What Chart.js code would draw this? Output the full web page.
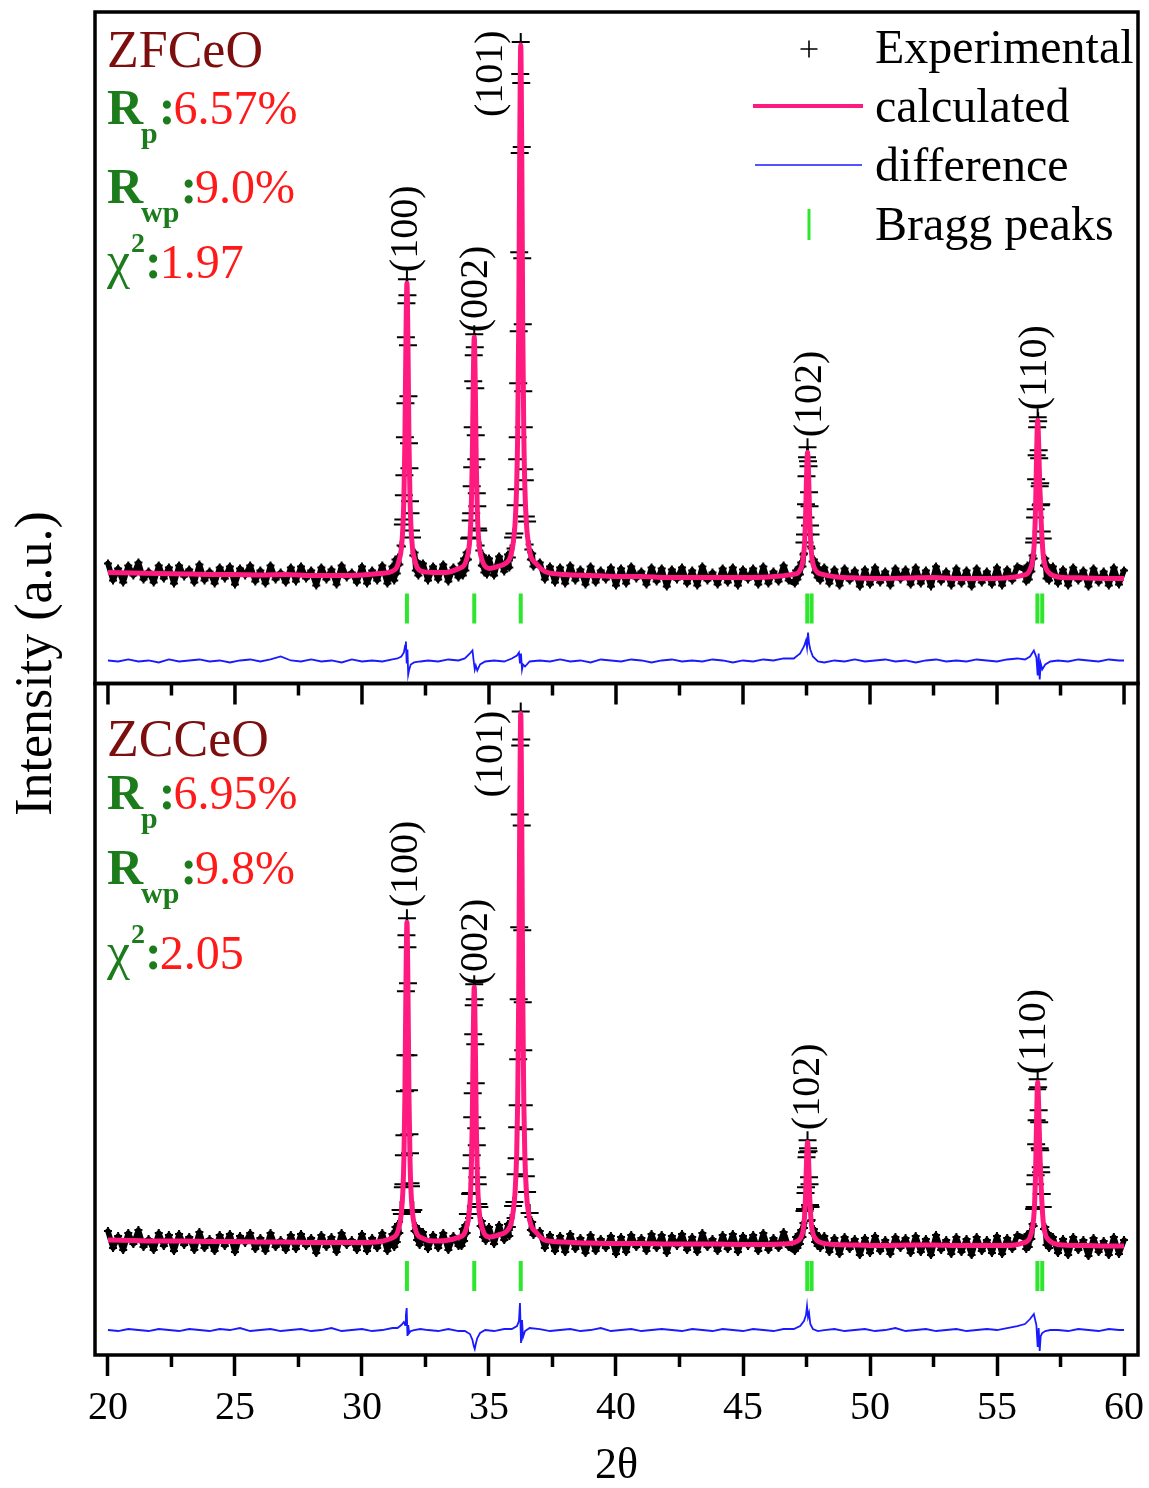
<!DOCTYPE html>
<html>
<head>
<meta charset="utf-8">
<title>Rietveld refinement ZFCeO / ZCCeO</title>
<script src="https://cdn.jsdelivr.net/npm/chart.js@4.4.0/dist/chart.umd.min.js"></script>
<style>
  html, body { margin: 0; padding: 0; background: #fff; }
  #wrap { position: relative; width: 1149px; height: 1488px; }
</style>
</head>
<body>
<div id="wrap"><canvas id="xrd" width="1149" height="1488"></canvas></div>
<script>
// 2theta grid of the calculated profile (same for both samples)
const calcX = [
  20, 21, 22, 23, 24, 25, 26, 27, 28, 29, 30, 30.7,
  31.17, 31.37, 31.47, 31.55, 31.61, 31.65, 31.69, 31.73, 31.77, 31.81, 31.85, 31.89, 31.93, 31.99, 32.07, 32.17, 32.37,
  32.8, 33.3,
  33.82, 34.02, 34.12, 34.2, 34.26, 34.3, 34.34, 34.38, 34.42, 34.46, 34.5, 34.54, 34.58, 34.64, 34.72, 34.82, 35.02,
  35.35,
  35.65, 35.85, 35.95, 36.03, 36.09, 36.13, 36.17, 36.21, 36.25, 36.29, 36.33, 36.37, 36.41, 36.47, 36.55, 36.65, 36.85,
  37.2, 38, 39, 40, 41, 42, 43, 44, 45, 46, 46.5,
  46.94, 47.14, 47.24, 47.32, 47.38, 47.42, 47.46, 47.5, 47.54, 47.58, 47.62, 47.66, 47.7, 47.76, 47.84, 47.94, 48.14,
  48.7, 49.5, 50.5, 51.5, 52.5, 53.5, 54.5, 55.3, 55.7,
  56.0, 56.2, 56.3, 56.38, 56.44, 56.48, 56.52, 56.56, 56.6, 56.64, 56.68, 56.72, 56.76, 56.82, 56.9, 57.0, 57.2,
  57.6, 58.5, 59.3, 60
];
const calcTop = [
  111, 110.5, 110, 109.5, 109, 109, 108.5, 109, 108, 108, 108.5, 110,
  112, 116, 124, 135, 156, 185, 243, 342, 400, 342, 243, 185, 156, 135, 124, 116, 112,
  111, 111,
  115, 118, 124, 133, 149, 173, 220, 299, 346, 299, 220, 173, 149, 133, 124, 118, 115,
  117,
  120, 127, 140, 161, 198, 250, 355, 533, 638, 533, 355, 250, 198, 161, 140, 127, 120,
  112, 109, 108, 107, 107, 106, 106, 106, 106, 106.5, 107.5,
  109, 110, 113, 118, 127, 139, 164, 206, 231, 211, 171, 144, 129, 119, 114, 111, 109,
  106.5, 105.5, 105, 105.5, 106, 105, 105, 105.5, 106.5,
  108, 110, 114, 120, 131, 147, 178, 232, 263, 239, 200, 172, 150, 128, 117, 112, 108,
  106, 105.5, 105, 105
];
const calcBot = [
  115, 114.5, 114, 114, 113.5, 113.5, 113, 113, 112.5, 112.5, 112.5, 113.5,
  117, 121, 129, 142, 164, 196, 260, 369, 433, 369, 260, 196, 164, 142, 129, 121, 117,
  114, 114.5,
  118, 121, 128, 138, 155, 181, 231, 317, 368, 317, 231, 181, 155, 138, 128, 121, 118,
  120,
  123, 130, 143, 164, 201, 254, 359, 537, 642, 537, 359, 254, 201, 164, 143, 130, 123,
  115, 113, 112, 111.5, 111.5, 111, 111, 111, 110.5, 110.5, 111,
  112, 114, 116, 120, 127, 138, 158, 193, 213, 198, 162, 142, 129, 121, 117, 114, 112,
  110.5, 110, 109.5, 110, 110, 109.5, 109.5, 109.5, 110,
  112, 114, 118, 125, 136, 152, 185, 240, 273, 249, 208, 178, 156, 133, 121, 116, 112,
  110, 109.5, 109, 109
];

// 2theta grid of the measured points
const expX = [
  20, 20.2, 20.4, 20.6, 20.8, 21, 21.2, 21.4, 21.6, 21.8,
  22, 22.2, 22.4, 22.6, 22.8, 23, 23.2, 23.4, 23.6, 23.8,
  24, 24.2, 24.4, 24.6, 24.8, 25, 25.2, 25.4, 25.6, 25.8,
  26, 26.2, 26.4, 26.6, 26.8, 27, 27.2, 27.4, 27.6, 27.8,
  28, 28.2, 28.4, 28.6, 28.8, 29, 29.2, 29.4, 29.6, 29.8,
  30, 30.2, 30.4, 30.6, 30.8, 31, 31.2,
  31.27, 31.32, 31.37, 31.42, 31.47, 31.52, 31.57, 31.61, 31.63, 31.65, 31.67, 31.69, 31.71, 31.73, 31.75, 31.77,
  31.79, 31.81, 31.83, 31.85, 31.87, 31.89, 31.91, 31.93, 31.97, 32.02, 32.07, 32.12, 32.17, 32.22, 32.27,
  32.4, 32.6, 32.8, 33, 33.2, 33.4, 33.6, 33.8,
  33.92, 33.97, 34.02, 34.07, 34.12, 34.17, 34.22, 34.26, 34.28, 34.3, 34.32, 34.34, 34.36, 34.38, 34.4, 34.42,
  34.44, 34.46, 34.48, 34.5, 34.52, 34.54, 34.56, 34.58, 34.62, 34.67, 34.72, 34.77, 34.82, 34.87, 34.92,
  35, 35.2, 35.4, 35.6,
  35.75, 35.8, 35.85, 35.9, 35.95, 36, 36.05, 36.09, 36.11, 36.13, 36.15, 36.17, 36.19, 36.21, 36.23, 36.25,
  36.27, 36.29, 36.31, 36.33, 36.35, 36.37, 36.39, 36.41, 36.45, 36.5, 36.55, 36.6, 36.65, 36.7, 36.75,
  37, 37.2, 37.4, 37.6, 37.8, 38, 38.2, 38.4, 38.6, 38.8,
  39, 39.2, 39.4, 39.6, 39.8, 40, 40.2, 40.4, 40.6, 40.8,
  41, 41.2, 41.4, 41.6, 41.8, 42, 42.2, 42.4, 42.6, 42.8,
  43, 43.2, 43.4, 43.6, 43.8, 44, 44.2, 44.4, 44.6, 44.8,
  45, 45.2, 45.4, 45.6, 45.8, 46, 46.2, 46.4, 46.6, 46.8,
  47.04, 47.09, 47.14, 47.19, 47.24, 47.29, 47.34, 47.38, 47.4, 47.42, 47.44, 47.46, 47.48, 47.5, 47.52, 47.54,
  47.56, 47.58, 47.6, 47.62, 47.64, 47.66, 47.68, 47.7, 47.74, 47.79, 47.84, 47.89, 47.94, 47.99, 48.04,
  48.2, 48.4, 48.6, 48.8, 49, 49.2, 49.4, 49.6, 49.8, 50,
  50.2, 50.4, 50.6, 50.8, 51, 51.2, 51.4, 51.6, 51.8, 52,
  52.2, 52.4, 52.6, 52.8, 53, 53.2, 53.4, 53.6, 53.8, 54,
  54.2, 54.4, 54.6, 54.8, 55, 55.2, 55.4, 55.6, 55.8,
  56.1, 56.15, 56.2, 56.25, 56.3, 56.35, 56.4, 56.44, 56.46, 56.48, 56.5, 56.52, 56.54, 56.56, 56.58, 56.6,
  56.62, 56.64, 56.66, 56.68, 56.7, 56.72, 56.74, 56.76, 56.8, 56.85, 56.9, 56.95, 57, 57.05, 57.1,
  57.2, 57.4, 57.6, 57.8, 58, 58.2, 58.4, 58.6, 58.8, 59, 59.2, 59.4, 59.6, 59.8, 60
];
const expTop = [
  120, 103, 115, 101, 118, 108, 121, 104, 112, 101,
  118, 105, 116, 100, 118, 107, 114, 101, 119, 103,
  112, 100, 116, 105, 117, 99, 115, 108, 118, 102,
  113, 100, 118, 104, 111, 101, 116, 102, 117, 105,
  113, 98, 116, 104, 114, 99, 118, 106, 111, 101,
  117, 100, 113, 103, 118, 100, 117,
  103, 124, 110, 126, 119, 138, 137, 159, 164, 188, 208, 246, 280, 346, 380, 404,
  388, 338, 287, 240, 215, 182, 170, 153, 146, 128, 131, 113, 122, 108, 119,
  120, 103, 117, 104, 119, 102, 116, 106,
  120, 108, 125, 113, 131, 124, 145, 146, 163, 170, 197, 216, 256, 302, 328, 349,
  336, 295, 248, 224, 190, 177, 155, 153, 133, 138, 118, 128, 111, 124, 109,
  125, 108, 127, 112,
  129, 116, 135, 126, 146, 150, 178, 194, 224, 246, 300, 352, 431, 530, 609, 641,
  600, 536, 425, 359, 292, 256, 214, 203, 167, 162, 134, 139, 124, 130, 117,
  121, 104, 117, 101, 116, 100, 118, 103, 114, 99,
  117, 101, 113, 104, 116, 98, 115, 100, 117, 105,
  112, 99, 116, 102, 115, 97, 114, 104, 116, 100,
  113, 98, 117, 103, 111, 99, 115, 101, 116, 98,
  114, 104, 115, 99, 117, 100, 112, 102, 118, 103,
  100, 113, 104, 116, 109, 121, 117, 129, 130, 141, 149, 166, 179, 207, 226, 236,
  222, 217, 191, 177, 158, 149, 137, 135, 122, 124, 111, 120, 106, 115, 103,
  116, 100, 114, 98, 115, 103, 113, 97, 114, 99,
  116, 101, 112, 98, 115, 104, 114, 99, 116, 100,
  113, 97, 117, 102, 112, 98, 115, 100, 113, 97,
  115, 101, 112, 99, 116, 98, 114, 103, 117,
  114, 102, 118, 104, 119, 112, 128, 125, 141, 145, 166, 174, 204, 228, 256, 266,
  262, 233, 225, 197, 200, 178, 179, 152, 145, 118, 125, 105, 118, 103, 115,
  117, 100, 114, 98, 116, 103, 113, 97, 115, 101, 112, 98, 116, 99, 113
];
const expBot = [
  124, 107, 119, 105, 122, 111, 125, 108, 116, 105,
  122, 109, 120, 104, 121, 110, 118, 105, 123, 107,
  116, 104, 120, 109, 121, 103, 119, 112, 122, 106,
  117, 104, 122, 108, 115, 105, 120, 106, 121, 109,
  117, 102, 120, 108, 118, 103, 122, 110, 115, 105,
  121, 104, 117, 107, 122, 104, 121,
  108, 128, 113, 131, 122, 145, 141, 168, 171, 200, 220, 264, 300, 364, 420, 437,
  408, 372, 300, 265, 221, 202, 172, 169, 143, 145, 124, 129, 115, 126, 110,
  123, 106, 120, 107, 122, 105, 119, 109,
  109, 126, 114, 130, 122, 141, 137, 161, 162, 187, 200, 238, 262, 321, 350, 371,
  356, 311, 272, 227, 210, 178, 171, 151, 148, 129, 134, 118, 127, 114, 123,
  128, 111, 130, 115,
  131, 119, 137, 128, 149, 153, 181, 197, 228, 250, 296, 356, 428, 541, 610, 644,
  616, 530, 425, 353, 305, 250, 226, 196, 179, 163, 138, 142, 125, 133, 120,
  124, 107, 120, 104, 119, 103, 121, 106, 117, 102,
  120, 104, 116, 107, 119, 101, 118, 103, 120, 108,
  117, 104, 121, 107, 120, 102, 119, 109, 121, 105,
  118, 103, 122, 108, 116, 104, 120, 106, 121, 103,
  119, 109, 120, 104, 122, 105, 117, 107, 123, 108,
  104, 118, 107, 121, 111, 125, 118, 132, 127, 144, 146, 162, 168, 198, 203, 215,
  207, 204, 178, 171, 150, 148, 134, 135, 122, 126, 113, 121, 109, 119, 107,
  119, 103, 117, 101, 118, 106, 116, 100, 117, 102,
  119, 104, 115, 101, 118, 107, 117, 102, 119, 103,
  116, 100, 120, 105, 115, 101, 118, 103, 116, 100,
  118, 104, 115, 102, 119, 101, 117, 106, 120,
  117, 106, 121, 108, 123, 116, 131, 129, 146, 148, 171, 180, 211, 235, 266, 276,
  268, 245, 233, 207, 205, 188, 183, 161, 148, 126, 128, 110, 122, 107, 118,
  118, 102, 116, 100, 118, 105, 115, 99, 117, 103, 114, 100, 118, 101, 115
];

// difference curve (observed - calculated, shifted down)
const diffX = [
  20, 20.4, 20.8, 21.2, 21.6, 22, 22.4, 22.8, 23.2, 23.6, 24, 24.4, 24.8, 25.2, 25.6,
  26, 26.4, 26.8, 27.2, 27.6, 28, 28.4, 28.8, 29.2, 29.6, 30, 30.4, 30.8, 31.2,
  31.4, 31.55, 31.65, 31.7, 31.73, 31.76, 31.79, 31.82, 31.86, 31.92, 32.05, 32.3,
  32.6, 33, 33.4, 33.8,
  34.05, 34.25, 34.35, 34.4, 34.44, 34.48, 34.54, 34.65, 34.85,
  35.2, 35.6,
  35.9, 36.1, 36.18, 36.22, 36.26, 36.3, 36.34, 36.42, 36.6,
  37, 37.4, 37.8, 38.2, 38.6, 39, 39.4, 39.8, 40.2, 40.6, 41, 41.4, 41.8,
  42.2, 42.6, 43, 43.4, 43.8, 44.2, 44.6, 45, 45.4, 45.8, 46.2, 46.6,
  47, 47.25, 47.4, 47.48, 47.52, 47.56, 47.6, 47.65, 47.75, 47.95,
  48.2, 48.6, 49, 49.4, 49.8, 50.2, 50.6, 51, 51.4, 51.8,
  52.2, 52.6, 53, 53.4, 53.8, 54.2, 54.6, 55, 55.4, 55.8,
  56.1, 56.3, 56.45, 56.55, 56.6, 56.64, 56.68, 56.72, 56.78, 56.9, 57.1,
  57.4, 57.8, 58.2, 58.6, 59, 59.4, 59.8, 60
];
const diffTop = [
  23, 22, 24, 22, 23, 21, 24, 22, 23, 24, 22, 23, 21, 23, 24,
  22, 24, 27, 23, 22, 24, 22, 23, 21, 24, 22, 23, 22, 24,
  25, 27, 31, 38, 42, 20, 34, 9, 14, 19, 21, 22,
  23, 22, 24, 23,
  25, 30, 33, 22, 14, 18, 13, 19, 22,
  23, 22,
  25, 28, 31, 20, 30, 14, 19, 17, 22,
  23, 22, 24, 22, 23, 21, 24, 23, 22, 24, 23, 21, 23,
  24, 22, 23, 22, 24, 23, 21, 23, 22, 24, 23, 25,
  25, 30, 37, 43, 36, 51, 40, 34, 27, 22,
  21, 23, 22, 24, 22, 23, 24, 22, 23, 21,
  23, 24, 22, 23, 22, 24, 23, 22, 24, 25,
  24, 27, 33, 26, 8, 30, 4, 20, 14, 19, 22,
  23, 22, 24, 23, 22, 24, 23, 23
];
const diffBot = [
  25, 24, 26, 25, 24, 26, 25, 24, 26, 25, 24, 26, 25, 27, 24,
  25, 26, 24, 25, 26, 24, 25, 27, 24, 25, 26, 24, 25, 27,
  27, 30, 33, 30, 40, 47, 19, 30, 22, 24, 25, 26,
  25, 24, 26, 24,
  24, 21, 15, 9, 6, 11, 17, 22, 25,
  24, 26,
  26, 29, 34, 52, 12, 35, 18, 24, 27,
  26, 24, 25, 26, 24, 25, 27, 24, 25, 26, 24, 25, 26,
  25, 24, 26, 25, 24, 26, 25, 24, 26, 25, 24, 26,
  26, 29, 34, 40, 49, 38, 42, 31, 26, 24,
  25, 26, 24, 25, 26, 24, 25, 27, 24, 25,
  26, 24, 25, 26, 24, 25, 26, 25, 27, 29,
  31, 36, 41, 30, 8, 27, 4, 19, 22, 24, 25,
  25, 24, 26, 25, 24, 26, 25, 25
];

// Bragg reflection positions (Ka1 / Ka2 for 102 and 110)
const braggX = [31.77, 34.42, 36.25, 47.53, 47.70, 56.59, 56.78];
const braggTop = [75, 75, 75, 75, 75, 75, 75];
const braggBot = [79, 79, 79, 79, 79, 79, 79];

// hkl labels, anchored at the start of the rotated text
const hklLabels = ['(100)', '(002)', '(101)', '(102)', '(110)'];
const hklXTop = [31.77, 34.49, 35.08, 47.64, 56.5];
const hklYTop = [411, 351, 566, 246, 273];
const hklXBot = [31.77, 34.49, 35.08, 47.56, 56.46];
const hklYBot = [448, 370, 558, 225, 281];

// refinement figures of merit
const sampleNames = ['ZFCeO', 'ZCCeO'];
const rpValues = ['6.57%', '6.95%'];
const rwpValues = ['9.0%', '9.8%'];
const chiValues = ['1.97', '2.05'];

const xTicks = [20, 25, 30, 35, 40, 45, 50, 55, 60];
const xMinorTicks = [22.5, 27.5, 32.5, 37.5, 42.5, 47.5, 52.5, 57.5];

function check(name, a, b) {
  if (a.length !== b.length) throw new Error(name + ': ' + a.length + ' vs ' + b.length);
}
check('calcTop', calcX, calcTop);
check('calcBot', calcX, calcBot);
check('expTop', expX, expTop);
check('expBot', expX, expBot);
check('diffTop', diffX, diffTop);
check('diffBot', diffX, diffBot);

function pts(xs, ys) {
  return xs.map((x, i) => ({ x: x, y: ys[i] }));
}

const SERIF = "'Liberation Serif', 'Times New Roman', serif";
const PINK = '#ff1a80';
const BLUE = '#1a1aff';
const GREEN = '#2ee62e';
const DKGREEN = '#1c7c1c';
const RED = '#ff1a1a';
const DKRED = '#7c0e0e';

Chart.defaults.font.family = SERIF;

function panelSets(axis, calc, exp, diff, bragg) {
  return [
    {
      label: 'calculated', yAxisID: axis, data: pts(calcX, calc), order: 0,
      showLine: true, borderColor: PINK, borderWidth: 5, pointRadius: 0,
      cubicInterpolationMode: 'monotone'
    },
    {
      label: 'difference', yAxisID: axis, data: pts(diffX, diff), order: 1,
      showLine: true, borderColor: BLUE, borderWidth: 1.8, pointRadius: 0
    },
    {
      label: 'Bragg peaks', yAxisID: axis, data: pts(braggX, bragg), order: 2,
      showLine: false, pointStyle: 'line', pointRotation: 90, pointRadius: 15,
      pointBorderWidth: 4, pointBorderColor: GREEN, pointBackgroundColor: GREEN
    },
    {
      label: 'Experimental', yAxisID: axis, data: pts(expX, exp), order: 3,
      showLine: true, borderColor: '#000', borderWidth: 3,
      borderJoinStyle: 'round', borderCapStyle: 'round',
      // the dense noise band reads as a solid black ribbon
      segment: {
        borderWidth: s => (s.p0.parsed.y < 135 && s.p1.parsed.y < 135 ? 5.5 : 2.5)
      },
      pointStyle: 'cross', pointBorderWidth: 2,
      pointRadius: c => (c.raw && c.raw.y > 140 ? 9 : 4),
      pointBorderColor: '#000', pointBackgroundColor: '#000'
    }
  ];
}

// frames, minor ticks, legend and annotations
const decor = {
  id: 'decor',
  afterDraw(chart) {
    const ctx = chart.ctx;
    const xs = chart.scales.x;
    const panels = [chart.scales.yTop, chart.scales.yBot];
    const left = chart.chartArea.left;
    const right = chart.chartArea.right;
    ctx.save();

    // panel frames
    ctx.strokeStyle = '#000';
    ctx.lineWidth = 3.5;
    panels.forEach(s => ctx.strokeRect(left, s.top, right - left, s.bottom - s.top));

    // ticks below each panel (major ticks of the lower axis come from Chart.js)
    panels.forEach((s, k) => {
      ctx.beginPath();
      xMinorTicks.forEach(v => {
        const px = xs.getPixelForValue(v);
        ctx.moveTo(px, s.bottom);
        ctx.lineTo(px, s.bottom + 12);
      });
      if (k === 0) {
        xTicks.forEach(v => {
          const px = xs.getPixelForValue(v);
          ctx.moveTo(px, s.bottom);
          ctx.lineTo(px, s.bottom + 21);
        });
      }
      ctx.stroke();
    });

    // hkl labels
    ctx.fillStyle = '#000';
    ctx.font = '40px ' + SERIF;
    ctx.textAlign = 'left';
    ctx.textBaseline = 'middle';
    [[hklXTop, hklYTop, panels[0]], [hklXBot, hklYBot, panels[1]]].forEach(([hx, hy, s]) => {
      hklLabels.forEach((t, i) => {
        ctx.save();
        ctx.translate(xs.getPixelForValue(hx[i]), s.getPixelForValue(hy[i]));
        ctx.rotate(-Math.PI / 2);
        ctx.fillText(t, 0, 0);
        ctx.restore();
      });
    });

    // figures of merit
    ctx.textBaseline = 'alphabetic';
    const rows = [[55, 112, 191, 266], [72, 125, 200, 285]];
    panels.forEach((s, k) => {
      const r = rows[k];
      const x0 = left + 12;
      let x;
      ctx.font = '52px ' + SERIF;
      ctx.fillStyle = DKRED;
      ctx.fillText(sampleNames[k], x0, s.top + r[0]);

      [[r[1], 'p', rpValues[k]], [r[2], 'wp', rwpValues[k]]].forEach(([dy, sub, val]) => {
        const yb = s.top + dy;
        ctx.fillStyle = DKGREEN;
        ctx.font = 'bold 50px ' + SERIF;
        ctx.fillText('R', x0, yb);
        x = x0 + ctx.measureText('R').width - 2;
        ctx.font = 'bold 30px ' + SERIF;
        ctx.fillText(sub, x, yb + 19);
        x += ctx.measureText(sub).width + 1;
        ctx.font = 'bold 50px ' + SERIF;
        ctx.fillText(':', x, yb);
        x += ctx.measureText(':').width - 2;
        ctx.fillStyle = RED;
        ctx.font = '48px ' + SERIF;
        ctx.fillText(val, x, yb);
      });

      const yc = s.top + r[3];
      ctx.fillStyle = DKGREEN;
      ctx.font = '52px ' + SERIF;
      ctx.fillText('\u03c7', x0, yc);
      x = x0 + ctx.measureText('\u03c7').width + 1;
      ctx.font = 'bold 28px ' + SERIF;
      ctx.fillText('2', x, yc - 26);
      x += ctx.measureText('2').width;
      ctx.font = 'bold 50px ' + SERIF;
      ctx.fillText(':', x, yc);
      x += ctx.measureText(':').width - 2;
      ctx.fillStyle = RED;
      ctx.font = '48px ' + SERIF;
      ctx.fillText(chiValues[k], x, yc);
    });

    // legend (top panel, upper right)
    const top = panels[0].top;
    const sx = right - 329;
    const tx = right - 263;
    ctx.font = '48px ' + SERIF;
    ctx.fillStyle = '#000';
    ['Experimental', 'calculated', 'difference', 'Bragg peaks'].forEach((t, i) => {
      ctx.fillText(t, tx, top + 51 + i * 59);
    });
    ctx.strokeStyle = '#000';
    ctx.lineWidth = 1.6;
    ctx.beginPath();
    ctx.moveTo(sx - 8.5, top + 37); ctx.lineTo(sx + 8.5, top + 37);
    ctx.moveTo(sx, top + 28.5); ctx.lineTo(sx, top + 45.5);
    ctx.stroke();
    ctx.strokeStyle = PINK;
    ctx.lineWidth = 4;
    ctx.beginPath();
    ctx.moveTo(right - 385, top + 94); ctx.lineTo(right - 275, top + 94);
    ctx.stroke();
    ctx.strokeStyle = BLUE;
    ctx.lineWidth = 1.6;
    ctx.beginPath();
    ctx.moveTo(right - 383, top + 153); ctx.lineTo(right - 276, top + 153);
    ctx.stroke();
    ctx.strokeStyle = GREEN;
    ctx.lineWidth = 3;
    ctx.beginPath();
    ctx.moveTo(sx, top + 197); ctx.lineTo(sx, top + 228);
    ctx.stroke();

    // common y title
    ctx.save();
    ctx.translate(left - 58, (panels[0].top + panels[1].bottom) / 2 - 20);
    ctx.rotate(-Math.PI / 2);
    ctx.font = '52px ' + SERIF;
    ctx.fillStyle = '#000';
    ctx.textAlign = 'center';
    ctx.textBaseline = 'middle';
    ctx.fillText('Intensity (a.u.)', 0, 0);
    ctx.restore();

    ctx.restore();
  }
};

function noPad(s) {
  s.width = 0;
  s.paddingTop = 0;
  s.paddingBottom = 0;
  s.paddingLeft = 0;
  s.paddingRight = 0;
}

new Chart(document.getElementById('xrd'), {
  type: 'scatter',
  data: {
    datasets: [
      ...panelSets('yTop', calcTop, expTop, diffTop, braggTop),
      ...panelSets('yBot', calcBot, expBot, diffBot, braggBot)
    ]
  },
  options: {
    responsive: false,
    animation: false,
    devicePixelRatio: 1,
    events: [],
    layout: { autoPadding: false, padding: { left: 95, right: 11, top: 12, bottom: 0 } },
    plugins: { legend: { display: false }, tooltip: { enabled: false } },
    scales: {
      x: {
        type: 'linear', position: 'bottom', min: 19.49, max: 60.55,
        afterBuildTicks: s => { s.ticks = xTicks.map(v => ({ value: v })); },
        afterFit: s => { s.height = 133; s.paddingLeft = 0; s.paddingRight = 0; },
        ticks: { color: '#000', font: { size: 40 }, padding: 8, maxRotation: 0, autoSkip: false, callback: v => String(v) },
        grid: { display: true, drawOnChartArea: false, drawTicks: true, tickLength: 21, tickWidth: 3.5, tickColor: '#000' },
        border: { display: false },
        title: { display: true, text: '2\u03b8', color: '#000', font: { size: 44, lineHeight: 1 }, padding: { top: 0, bottom: 0 } }
      },
      // stacked left boxes are placed in reverse order, so the lower panel is declared first
      yBot: {
        type: 'linear', position: 'left', stack: 'xrd', stackWeight: 1,
        min: 0, max: 672, display: false, afterFit: noPad
      },
      yTop: {
        type: 'linear', position: 'left', stack: 'xrd', stackWeight: 1,
        min: 0, max: 671, display: false, afterFit: noPad
      }
    }
  },
  plugins: [decor]
});
</script>
</body>
</html>
